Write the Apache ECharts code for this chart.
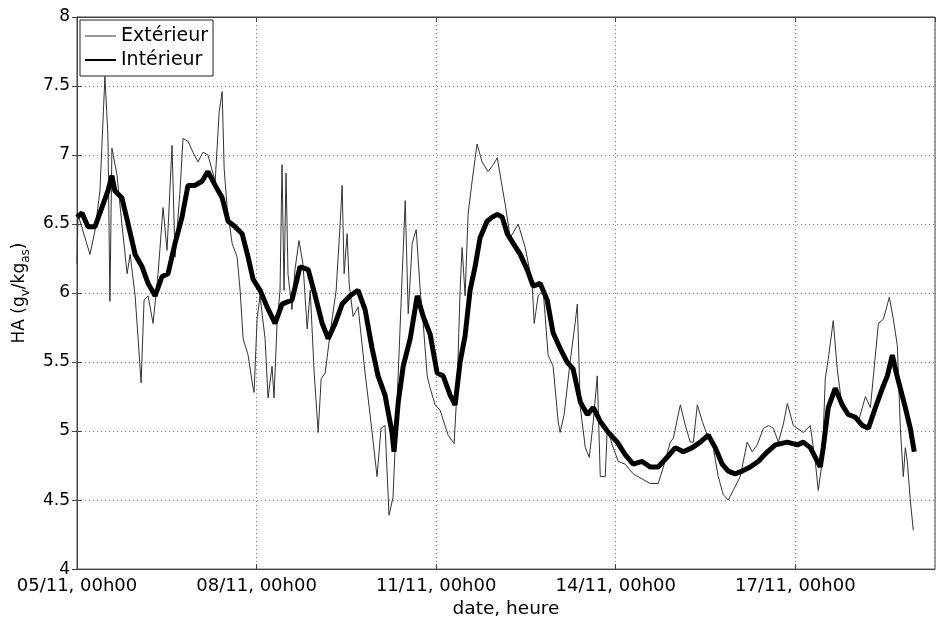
<!DOCTYPE html>
<html>
<head>
<meta charset="utf-8">
<script src="https://cdn.jsdelivr.net/npm/echarts@6/dist/echarts.min.js"></script>
<style>
html,body{margin:0;padding:0;background:#fff;}
#chart{width:940px;height:624px;}
</style>
</head>
<body>
<div id="chart"></div>
<script>
// hours since 05/11 00h00
const extHours = [0,0.4,3.2,5.2,7.2,9.2,11.2,12.4,13.2,14.0,16.0,18.0,20.1,21.3,23.3,24.5,25.7,26.9,28.5,30.5,32.5,34.5,36.1,38.1,39.3,41.3,42.5,44.5,46.5,48.5,50.5,52.5,55.4,57.0,58.2,59.0,60.2,62.2,64.2,65.4,66.6,68.6,70.6,71.0,72.2,73.4,75.4,76.6,78.2,79.0,80.2,81.4,82.2,83.0,83.8,84.6,86.2,87.4,89.0,90.6,92.3,93.5,95.1,96.7,97.9,99.5,101.5,103.9,105.5,106.3,107.1,108.3,109.1,110.7,112.7,115.5,117.5,120.3,121.9,123.5,125.1,126.7,128.8,130.4,131.6,132.8,134.4,136.0,137.6,138.8,140.4,141.6,143.6,145.6,148.8,151.2,152.4,153.6,154.4,155.6,156.8,158.4,160.4,162.4,164.8,166.9,168.5,170.1,171.7,173.7,176.9,179.7,182.5,183.3,184.9,186.9,188.9,190.9,192.9,193.7,195.3,197.7,199.7,200.6,201.8,203.8,205.4,207.0,208.6,209.8,211.8,212.6,214.6,217.0,219.8,223.0,229.8,233.0,235.1,237.9,239.1,241.9,243.9,245.9,247.1,248.7,250.7,252.7,255.1,257.1,259.1,261.1,263.1,265.9,268.7,270.7,272.7,275.2,277.2,279.2,281.2,283.2,284.8,287.2,291.2,294.0,296.0,297.2,298.8,300.0,301.2,303.2,304.8,306.8,310.0,313.3,316.1,318.1,320.1,321.3,323.3,325.7,327.3,328.9,330.1,331.3,332.1,332.9,334.1,335.3];
const extValues = [6.21,6.57,6.40,6.28,6.45,6.74,7.57,7.14,5.94,7.05,6.86,6.50,6.14,6.28,5.98,5.67,5.35,5.95,5.98,5.78,6.14,6.62,6.31,7.07,6.26,6.74,7.12,7.10,7.02,6.95,7.02,7.00,6.81,7.31,7.46,6.90,6.62,6.36,6.26,6.02,5.67,5.55,5.31,5.28,5.81,5.98,5.67,5.24,5.47,5.24,5.78,6.02,6.93,6.02,6.87,6.14,5.88,6.17,6.38,6.21,5.74,6.02,5.42,4.99,5.38,5.42,5.71,6.02,6.50,6.78,6.14,6.43,6.07,5.83,5.90,5.42,5.12,4.67,5.02,5.04,4.39,4.52,5.42,6.14,6.67,5.85,6.36,6.46,6.02,5.78,5.40,5.31,5.19,5.15,4.97,4.91,5.31,6.02,6.33,5.98,6.57,6.81,7.08,6.95,6.88,6.93,6.98,6.81,6.64,6.40,6.50,6.33,6.07,5.78,5.98,6.02,5.55,5.47,5.07,4.99,5.12,5.50,5.78,5.92,5.17,4.88,4.81,5.07,5.40,4.67,4.67,5.02,4.90,4.78,4.76,4.69,4.62,4.62,4.74,4.92,4.95,5.19,5.04,4.92,4.92,5.19,5.07,4.97,4.88,4.67,4.54,4.50,4.57,4.67,4.92,4.85,4.90,5.02,5.04,5.02,4.92,5.05,5.20,5.04,4.99,5.04,4.78,4.57,4.78,5.38,5.52,5.80,5.45,5.17,5.12,5.07,5.25,5.17,5.55,5.78,5.81,5.97,5.81,5.62,5.02,4.67,4.88,4.78,4.50,4.28];

const intHours = [0,2.0,4.4,7.2,10.0,12.4,14.0,15.2,18.0,20.5,23.3,26.1,28.5,31.3,34.1,36.5,39.3,42.1,44.5,47.3,50.1,52.5,55.4,58.2,60.6,63.4,66.2,68.6,70.6,73.4,76.2,79.4,82.2,86.2,89.4,92.7,95.5,98.3,100.7,103.5,106.3,109.5,112.7,115.5,118.3,120.7,123.5,126.3,127.1,128.8,130.8,133.6,136.4,138.8,141.6,144.4,146.8,149.6,151.6,153.6,155.6,157.6,159.6,161.6,164.4,166.5,168.5,170.5,172.5,174.9,177.7,180.5,182.9,185.7,188.5,190.9,193.7,196.5,198.9,201.8,204.6,207.0,209.8,212.6,216.6,219.8,223.0,226.6,229.8,233.0,236.6,239.9,243.1,246.7,249.9,253.1,255.9,258.7,261.1,263.9,266.7,269.9,273.1,276.8,280.0,284.8,288.8,291.2,294.0,296.0,298.0,299.2,301.2,304.0,306.8,309.2,312.1,314.9,317.3,320.1,322.9,324.9,326.9,328.5,330.1,332.1,334.1,335.7];
const intValues = [6.55,6.58,6.48,6.48,6.62,6.74,6.85,6.74,6.69,6.50,6.28,6.19,6.07,5.98,6.12,6.14,6.36,6.55,6.78,6.78,6.81,6.88,6.78,6.69,6.52,6.48,6.43,6.26,6.10,6.02,5.90,5.78,5.92,5.95,6.19,6.17,5.98,5.78,5.67,5.78,5.92,5.98,6.02,5.88,5.60,5.40,5.26,4.99,4.85,5.21,5.47,5.67,5.98,5.83,5.70,5.42,5.40,5.26,5.19,5.50,5.69,6.02,6.19,6.40,6.52,6.55,6.57,6.55,6.43,6.36,6.28,6.17,6.05,6.07,5.95,5.71,5.60,5.50,5.45,5.21,5.12,5.17,5.07,5.00,4.92,4.83,4.76,4.78,4.74,4.74,4.81,4.88,4.85,4.88,4.92,4.97,4.88,4.76,4.71,4.69,4.71,4.74,4.78,4.85,4.90,4.92,4.90,4.92,4.88,4.81,4.74,4.88,5.17,5.31,5.19,5.12,5.10,5.04,5.02,5.17,5.31,5.40,5.55,5.42,5.31,5.17,5.02,4.85];

const seriesNames = ['Extérieur', 'Intérieur'];
const xTickStep = 72; // hours
const xMax = 344;
const yMin = 4, yMax = 8, yStep = 0.5;

function zip(a, b) { return a.map((h, i) => [h, b[i]]); }
function fmtDate(h) {
  const d = 5 + Math.floor(h / 24);
  const hh = Math.round(h % 24);
  return String(d).padStart(2, '0') + '/11, ' + String(hh).padStart(2, '0') + 'h00';
}

const FONT = 'DejaVu Sans';
const chart = echarts.init(document.getElementById('chart'), null, {renderer: 'canvas'});
const gridLine = {show: true, lineStyle: {type: [1, 3], color: '#7a7a7a', width: 1}};
chart.setOption({
  animation: false,
  backgroundColor: '#fff',
  textStyle: {fontFamily: FONT},
  grid: {left: 77, right: 5, top: 17, bottom: 48, show: true, borderColor: '#444', borderWidth: 1, backgroundColor: 'transparent'},
  legend: {
    orient: 'vertical', left: 80, top: 20,
    data: [
      {name: seriesNames[0], icon: 'path://M0,0L0,0M0,4.5H31V5.5H0ZM31,10L31,10'},
      {name: seriesNames[1], icon: 'path://M0,0L0,0M0,4H31V6H0ZM31,10L31,10'}
    ],
    itemWidth: 31, itemHeight: 10, itemGap: 2,
    backgroundColor: '#fff', borderColor: '#222', borderWidth: 1, borderRadius: 0,
    padding: [5, 5, 5, 5],
    textStyle: {fontFamily: FONT, fontSize: 19, lineHeight: 22, color: '#000'}
  },
  xAxis: [{
    type: 'value', min: 0, max: xMax, interval: xTickStep,
    name: 'date, heure', nameLocation: 'middle', nameGap: 30,
    nameTextStyle: {fontFamily: FONT, fontSize: 18.5, color: '#000'},
    axisLine: {show: true, lineStyle: {color: '#444'}},
    axisTick: {show: true, inside: true, length: 5, lineStyle: {color: '#444'}},
    axisLabel: {fontFamily: FONT, fontSize: 18, color: '#000', margin: 8, formatter: v => fmtDate(v), showMaxLabel: false},
    splitLine: gridLine
  }, {
    type: 'value', min: 0, max: xMax, interval: xTickStep, position: 'top',
    axisLine: {show: true, lineStyle: {color: '#444'}},
    axisTick: {show: true, inside: true, length: 5, lineStyle: {color: '#444'}},
    axisLabel: {show: false}, splitLine: {show: false}
  }],
  yAxis: [{
    type: 'value', min: yMin, max: yMax, interval: yStep,
    name: 'HA (g{sub|v}/kg{sub|as})', nameLocation: 'middle', nameGap: 42,
    nameTextStyle: {fontFamily: FONT, fontSize: 17, color: '#000', lineHeight: 24,
      rich: {sub: {fontFamily: FONT, fontSize: 12, lineHeight: 8, verticalAlign: 'bottom', color: '#000'}}},
    axisLine: {show: true, lineStyle: {color: '#444'}},
    axisTick: {show: true, inside: true, length: 5, lineStyle: {color: '#444'}},
    axisLabel: {fontFamily: FONT, fontSize: 17, color: '#000', margin: 7},
    splitLine: gridLine
  }, {
    type: 'value', min: yMin, max: yMax, interval: yStep, position: 'right',
    axisLine: {show: true, lineStyle: {color: '#444'}},
    axisTick: {show: true, inside: true, length: 5, lineStyle: {color: '#444'}},
    axisLabel: {show: false}, splitLine: {show: false}
  }],
  series: [{
    name: seriesNames[0], type: 'line', data: zip(extHours, extValues),
    showSymbol: false, symbol: 'none',
    lineStyle: {color: '#333', width: 1},
    itemStyle: {color: '#333'}
  }, {
    name: seriesNames[1], type: 'line', data: zip(intHours, intValues),
    showSymbol: false, symbol: 'none',
    lineStyle: {color: '#000', width: 5},
    itemStyle: {color: '#000'}
  }]
});
</script>
</body>
</html>
